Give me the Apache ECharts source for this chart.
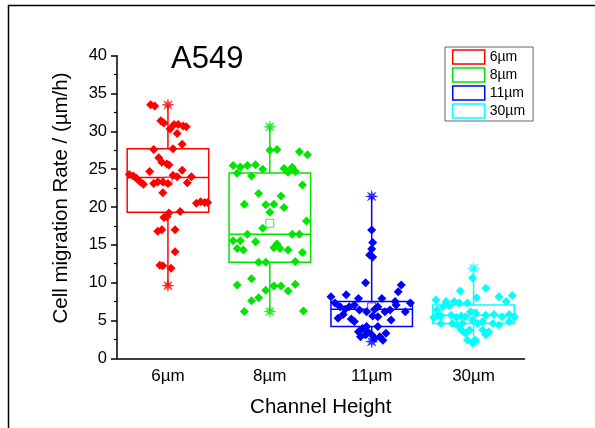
<!DOCTYPE html>
<html>
<head>
<meta charset="utf-8">
<script src="https://cdn.jsdelivr.net/npm/echarts@6/dist/echarts.min.js"></script>
<style>
  html, body { margin: 0; padding: 0; background: #fff; }
  #chart { width: 595px; height: 428px; }
</style>
</head>
<body>
<div id="chart"></div>
<script>
// categories and colours
const categories = ['6µm', '8µm', '11µm', '30µm']
const colors = ['#ff0000', '#00e600', '#0000ff', '#00ffff']

// box stats: [min, Q1, median, Q3, max]
const stats6 = [9.6, 19.3, 23.9, 27.7, 33.5]
const stats8 = [6.2, 12.7, 16.4, 24.5, 30.6]
const stats11 = [2.2, 4.2, 6.5, 7.5, 21.4]
const stats30 = [2.1, 4.6, 5.7, 7.05, 11.9]
const means = [23.4, 17.85, 6.8, 5.9]

// raw points: [horizontal jitter, value]
const points6 = [[-0.17,33.5],[-0.13,33.35],[-0.07,31.4],[-0.04,31.1],[0.02,30.3],[0.06,30.9],[0.10,30.9],[0.15,30.7],[0.18,30.6],[0.09,29.7],[0.14,28.3],[-0.14,27.6],[0.05,27.7],[-0.09,26.5],[-0.06,25.9],[-0.01,25.7],[0.01,25.55],[-0.18,24.7],[-0.38,24.3],[-0.34,24.1],[-0.31,23.8],[-0.27,23.3],[-0.24,23.0],[-0.14,23.1],[-0.10,23.3],[-0.05,23.3],[0.0,23.1],[0.05,24.2],[0.09,24.0],[0.14,24.85],[0.19,23.2],[0.23,24.0],[-0.05,21.9],[0.28,20.5],[0.32,20.7],[0.36,20.6],[0.39,20.6],[0.01,19.2],[-0.01,18.7],[-0.04,18.6],[0.12,19.4],[-0.10,16.8],[-0.06,17.0],[0.07,17.0],[0.07,14.1],[-0.08,12.3],[-0.05,12.25],[0.03,11.9]]
const points8 = [[0.0,27.5],[0.07,27.6],[0.29,27.3],[0.37,26.9],[-0.36,25.5],[-0.29,25.3],[-0.22,25.5],[-0.14,25.6],[-0.32,24.45],[-0.18,24.1],[-0.07,25.0],[0.14,25.1],[0.18,24.6],[0.22,25.25],[0.25,24.7],[0.32,22.9],[-0.11,21.8],[0.11,21.45],[-0.25,20.35],[-0.04,20.3],[0.04,20.35],[0.14,19.95],[0.0,19.3],[0.36,18.15],[-0.07,17.2],[-0.22,16.4],[0.22,16.4],[0.29,16.4],[-0.36,15.55],[-0.29,15.55],[-0.14,15.4],[-0.32,14.5],[-0.26,14.3],[0.04,14.6],[0.07,15.1],[0.10,14.5],[0.18,14.3],[0.32,14.0],[-0.11,12.7],[-0.04,12.7],[0.25,12.8],[-0.32,9.7],[-0.18,10.5],[0.04,9.55],[0.11,9.55],[0.18,8.9],[0.25,9.8],[-0.04,9.0],[-0.18,7.6],[-0.11,8.0],[-0.25,6.2],[0.33,6.25]]
const points11 = [[0.0,16.95],[0.01,15.3],[0.0,14.45],[-0.02,13.65],[0.01,13.4],[-0.06,10.0],[0.29,9.7],[0.26,8.8],[-0.40,8.15],[-0.25,8.4],[-0.13,7.9],[0.10,7.9],[0.38,7.3],[0.23,7.5],[-0.36,7.3],[-0.31,6.8],[-0.26,6.5],[-0.22,6.8],[-0.17,7.05],[-0.12,6.4],[-0.05,6.15],[0.03,6.5],[0.06,6.8],[0.13,6.15],[0.18,6.4],[0.24,7.05],[0.33,6.15],[-0.33,5.3],[-0.28,5.8],[-0.20,5.2],[-0.17,4.85],[0.01,5.6],[0.06,5.5],[0.19,5.05],[-0.13,3.5],[-0.09,3.95],[-0.05,4.2],[-0.11,2.85],[-0.06,3.1],[-0.04,3.5],[0.0,3.1],[0.06,4.2],[0.03,2.65],[0.08,2.85],[0.11,2.4],[0.14,3.3]]
const points30 = [[-0.01,10.6],[-0.13,8.9],[0.12,9.25],[0.03,8.0],[0.25,8.15],[0.32,7.5],[0.38,8.3],[-0.37,7.7],[-0.27,7.5],[-0.19,7.5],[-0.14,7.3],[-0.06,7.3],[-0.30,6.8],[-0.24,6.95],[-0.36,6.4],[-0.35,5.7],[-0.39,5.4],[-0.32,5.6],[-0.32,4.6],[-0.22,5.7],[-0.17,5.4],[-0.12,5.6],[-0.08,5.5],[-0.03,6.15],[0.02,5.95],[0.12,5.7],[0.20,5.8],[0.28,5.5],[0.35,5.8],[0.35,4.85],[0.40,5.5],[-0.21,4.6],[-0.16,4.4],[-0.11,4.6],[-0.01,5.05],[0.04,4.6],[0.09,4.85],[0.19,4.6],[0.25,4.4],[-0.12,3.75],[-0.08,3.3],[-0.04,3.75],[0.09,3.75],[0.12,3.1],[0.15,3.5],[-0.06,2.4],[-0.01,2.1],[0.02,2.4]]

const allStats = [stats6, stats8, stats11, stats30]
const allPoints = [points6, points8, points11, points30]

const font = '"Liberation Sans", Arial, sans-serif'
// 8-point asterisk used for min/max markers
const starPath = 'path://M20,10 L13.5,11.4 L17.07,17.07 L11.4,13.5 L10,20 L8.6,13.5 L2.93,17.07 L6.5,11.4 L0,10 L6.5,8.6 L2.93,2.93 L8.6,6.5 L10,0 L11.4,6.5 L17.07,2.93 L13.5,8.6 Z'

const renderBox = (params, api) => {
	const x = api.value(0)
	const lo = api.coord([x, api.value(1)])
	const q1 = api.coord([x, api.value(2)])
	const med = api.coord([x, api.value(3)])
	const q3 = api.coord([x, api.value(4)])
	const hi = api.coord([x, api.value(5)])
	const half = api.size([0.8, 0])[0] / 2
	const style = { stroke: api.visual('color'), fill: null, lineWidth: 1.5 }
	return {
		type: 'group',
		children: [
			{ type: 'line', shape: { x1: hi[0], y1: hi[1], x2: q3[0], y2: q3[1] }, style },
			{ type: 'line', shape: { x1: q1[0], y1: q1[1], x2: lo[0], y2: lo[1] }, style },
			{ type: 'rect', shape: { x: q3[0] - half, y: q3[1], width: half * 2, height: q1[1] - q3[1] }, style },
			{ type: 'line', shape: { x1: med[0] - half, y1: med[1], x2: med[0] + half, y2: med[1] }, style }
		]
	}
}

const series = []
categories.forEach((name, i) => {
	const s = allStats[i]
	series.push({
		name,
		type: 'custom',
		xAxisIndex: 1,
		renderItem: renderBox,
		itemStyle: { color: colors[i] },
		encode: { x: 0, y: [1, 2, 3, 4, 5] },
		data: [[i].concat(s)],
		z: 1
	})
	series.push({
		type: 'scatter',
		xAxisIndex: 1,
		symbol: 'rect',
		symbolSize: 8,
		itemStyle: { color: '#fff', borderColor: colors[i], borderWidth: 1 },
		data: [[i, means[i]]],
		z: 2
	})
	series.push({
		type: 'scatter',
		xAxisIndex: 1,
		symbol: 'diamond',
		symbolSize: 9,
		itemStyle: { color: colors[i], opacity: 1 },
		data: allPoints[i].map(p => [i + p[0], p[1]]),
		z: 3
	})
	series.push({
		type: 'scatter',
		xAxisIndex: 1,
		symbol: starPath,
		symbolSize: 12,
		itemStyle: { color: colors[i], borderColor: colors[i], borderWidth: 0.5 },
		data: [[i, s[0]], [i, s[4]]],
		z: 3
	})
})

const myChart = echarts.init(document.getElementById('chart'), null, { renderer: 'canvas' })
const option = {
	backgroundColor: '#fff',
	animation: false,
	textStyle: { fontFamily: font },
	title: {
		text: 'A549',
		left: 166,
		top: 39,
		textStyle: { fontFamily: font, fontSize: 31, fontWeight: 'normal', color: '#000' }
	},
	legend: {
		orient: 'vertical',
		left: 445,
		top: 47,
		padding: [2, 8, 2, 7],
		itemWidth: 32,
		itemHeight: 14,
		itemGap: 2,
		borderColor: '#666',
		borderWidth: 1,
		textStyle: { fontFamily: font, fontSize: 14, lineHeight: 16, color: '#000' },
		data: categories.map((name, i) => ({
			name,
			icon: 'rect',
			itemStyle: { color: '#fff', borderColor: colors[i], borderWidth: 1.5 }
		}))
	},
	graphic: [{
		type: 'polyline',
		shape: { points: [[8.5, 428], [8.5, 5.5], [595, 5.5]] },
		style: { stroke: '#000', lineWidth: 1.5, fill: null }
	}],
	grid: { left: 117, right: 70.5, top: 55.7, bottom: 69.7 },
	xAxis: [
		{
			type: 'category',
			data: categories,
			axisLine: { lineStyle: { color: '#000', width: 1.5 } },
			axisTick: { alignWithLabel: true, length: 5, lineStyle: { width: 1.5 } },
			axisLabel: { fontSize: 17, color: '#000', margin: 10, fontFamily: font },
			name: 'Channel Height',
			nameLocation: 'middle',
			nameGap: 39,
			nameTextStyle: { fontSize: 20.5, color: '#000', fontFamily: font }
		},
		{
			type: 'value',
			min: -0.5,
			max: 3.5,
			show: false
		}
	],
	yAxis: {
		type: 'value',
		min: 0,
		max: 40,
		interval: 5,
		axisLine: { show: true, onZero: false, lineStyle: { color: '#000', width: 1.5 } },
		axisTick: { show: true, length: 6, lineStyle: { width: 1.5 } },
		minorTick: { show: true, splitNumber: 2, length: 3, lineStyle: { color: '#000', width: 1.2 } },
		splitLine: { show: false },
		axisLabel: { fontSize: 16.5, color: '#000', margin: 10, fontFamily: font },
		name: 'Cell migration Rate / (µm/h)',
		nameLocation: 'middle',
		nameGap: 45,
		nameTextStyle: { fontSize: 20.5, color: '#000', fontFamily: font, padding: [0, 0, 0, 18] }
	},
	series
}
myChart.setOption(option, true)
</script>
</body>
</html>
